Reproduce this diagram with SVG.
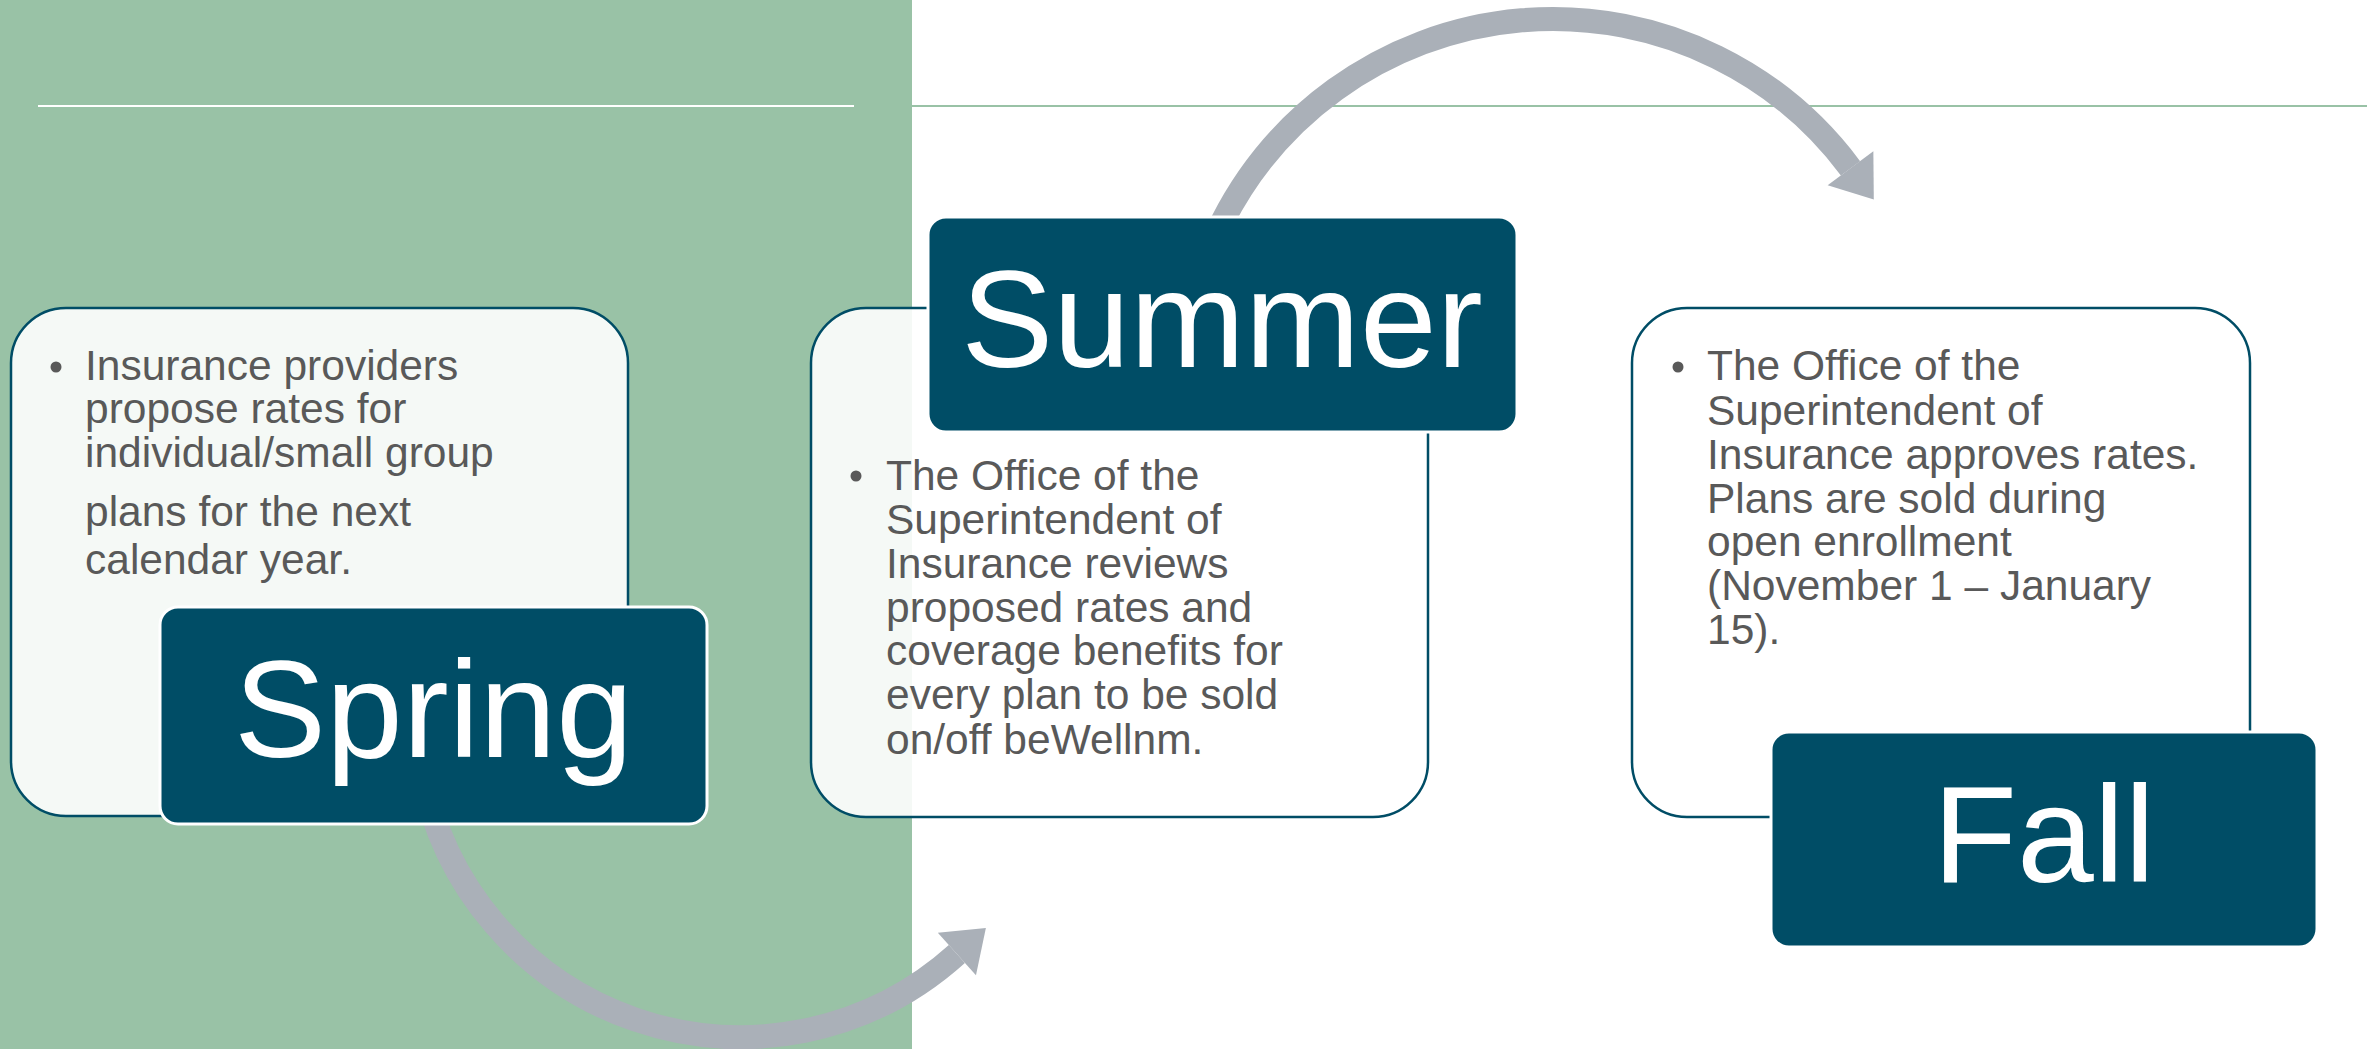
<svg xmlns="http://www.w3.org/2000/svg" width="2379" height="1049" viewBox="0 0 2379 1049">
  <style>
    .card { fill: #ffffff; fill-opacity: 0.9; stroke: #004d66; stroke-width: 2.5; }
    .label { fill: #004d66; stroke: #ffffff; stroke-width: 3; }
    .body { font-family: "Liberation Sans", Arial, sans-serif; font-size: 42.5px; fill: #595959; }
    .title { font-family: "Liberation Sans", Arial, sans-serif; font-size: 138px; fill: #ffffff; text-anchor: middle; }
    .bullet { fill: #595959; }
    .arc { fill: none; stroke: #aab0b8; stroke-width: 24; }
  </style>
  <defs>
    <marker id="head" markerUnits="userSpaceOnUse" markerWidth="42" markerHeight="60" viewBox="0 -30 42 60" refX="0" refY="0" orient="auto" overflow="visible">
      <path d="M0,-28.5 L39,0 L0,28.5 Z" fill="#aab0b8"/>
    </marker>
  </defs>

  <rect x="0" y="0" width="2379" height="1049" fill="#ffffff"/>
  <rect x="0" y="0" width="912" height="1049" fill="#99c2a6"/>
  <line x1="38" y1="106" x2="854" y2="106" stroke="#ffffff" stroke-width="2"/>
  <line x1="912" y1="106" x2="2367" y2="106" stroke="#99c2a6" stroke-width="2"/>

  <g id="connectors">
    <path class="arc" d="M421.8,769.8 A323.5,323.5 0 0 0 956.9,954.0" marker-end="url(#head)"/>
    <path class="arc" d="M1222.4,221.6 A371,371 0 0 1 1850.5,168.3" marker-end="url(#head)"/>
  </g>

  <g id="spring">
    <rect class="card" x="11" y="308" width="617" height="508" rx="55"/>
    <circle class="bullet" cx="56" cy="367" r="5.5"/>
    <text class="body">
      <tspan x="85" y="380">Insurance providers</tspan>
      <tspan x="85" y="423">propose rates for</tspan>
      <tspan x="85" y="467">individual/small group</tspan>
      <tspan x="85" y="526">plans for the next</tspan>
      <tspan x="85" y="574">calendar year.</tspan>
    </text>
    <rect class="label" x="160" y="607" width="547" height="217" rx="18"/>
    <text class="title" x="433.5" y="757">Spring</text>
  </g>

  <g id="summer">
    <rect class="card" x="811" y="308" width="617" height="509" rx="55"/>
    <circle class="bullet" cx="856" cy="476" r="5.5"/>
    <text class="body">
      <tspan x="886" y="490">The Office of the</tspan>
      <tspan x="886" y="534">Superintendent of</tspan>
      <tspan x="886" y="578">Insurance reviews</tspan>
      <tspan x="886" y="622">proposed rates and</tspan>
      <tspan x="886" y="665">coverage benefits for</tspan>
      <tspan x="886" y="709">every plan to be sold</tspan>
      <tspan x="886" y="754">on/off beWellnm.</tspan>
    </text>
    <rect class="label" x="928" y="217" width="589" height="215" rx="18"/>
    <text class="title" x="1222" y="367">Summer</text>
  </g>

  <g id="fall">
    <rect class="card" x="1632" y="308" width="618" height="509" rx="55"/>
    <circle class="bullet" cx="1678" cy="367" r="5.5"/>
    <text class="body">
      <tspan x="1707" y="380">The Office of the</tspan>
      <tspan x="1707" y="425">Superintendent of</tspan>
      <tspan x="1707" y="469">Insurance approves rates.</tspan>
      <tspan x="1707" y="513">Plans are sold during</tspan>
      <tspan x="1707" y="556">open enrollment</tspan>
      <tspan x="1707" y="600">(November 1 – January</tspan>
      <tspan x="1707" y="644">15).</tspan>
    </text>
    <rect class="label" x="1771" y="732" width="546" height="215" rx="18"/>
    <text class="title" x="2044" y="882">Fall</text>
  </g>
</svg>
